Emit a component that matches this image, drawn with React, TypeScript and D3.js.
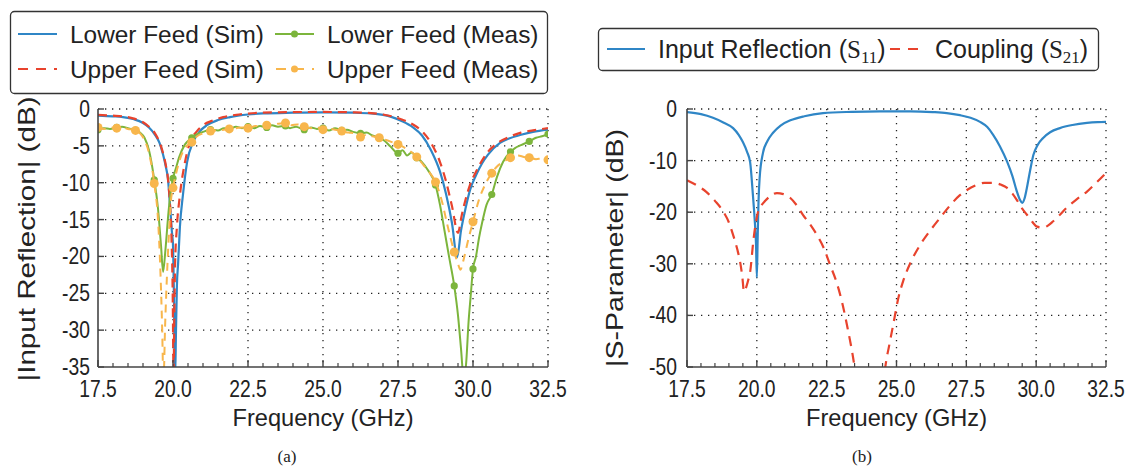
import React from "react";
import * as d3 from "d3";

// ---------- data ----------
const freqTicks = [17.5, 20.0, 22.5, 25.0, 27.5, 30.0, 32.5];
const leftYTicks = [0, -5, -10, -15, -20, -25, -30, -35];
const rightYTicks = [0, -10, -20, -30, -40, -50];
const markerStep = 0.625;

const lowerFeedSim: [number, number][] = [
  [17.5, -0.9], [18.0, -1.0], [18.33, -1.1], [18.7, -1.4], [19.0, -1.9], [19.2, -2.5], [19.4, -3.5],
  [19.55, -4.6], [19.67, -6.2], [19.76, -7.8], [19.83, -9.4], [19.9, -13], [19.96, -16.5], [20.0, -18.5],
  [20.03, -25], [20.07, -36.5], [20.1, -30], [20.13, -24], [20.17, -21], [20.23, -16], [20.33, -11.7],
  [20.47, -7.2], [20.67, -4.5], [20.9, -3.0], [21.13, -2.2], [21.5, -1.5], [21.9, -1.1], [22.5, -0.75],
  [23.0, -0.6], [24.0, -0.5], [25.0, -0.45], [26.0, -0.5], [26.6, -0.6], [27.0, -0.8], [27.3, -1.1],
  [27.6, -1.6], [28.0, -2.5], [28.3, -3.6], [28.6, -5.6], [28.9, -8.5], [29.1, -11.5], [29.3, -15.5],
  [29.47, -20.1], [29.6, -16.5], [29.75, -13.5], [29.9, -11], [30.1, -9], [30.3, -7.4], [30.5, -6.2],
  [30.9, -4.6], [31.2, -4.0], [31.6, -3.5], [32.0, -3.1], [32.5, -2.8],
];

const upperFeedSim: [number, number][] = [
  [17.5, -0.8], [18.0, -0.9], [18.33, -1.0], [18.7, -1.3], [19.0, -1.8], [19.2, -2.4], [19.4, -3.3],
  [19.55, -4.5], [19.67, -6.0], [19.76, -7.6], [19.83, -9.4], [19.9, -13], [19.95, -17.5], [19.99, -25],
  [20.02, -36.5], [20.04, -29], [20.07, -21], [20.13, -16], [20.23, -11.7], [20.4, -7.2], [20.57, -4.5],
  [20.8, -3.0], [21.0, -2.2], [21.3, -1.6], [21.67, -1.1], [22.2, -0.75], [23.0, -0.5], [24.0, -0.42],
  [25.0, -0.4], [26.0, -0.45], [26.6, -0.55], [27.0, -0.75], [27.3, -1.0], [27.6, -1.4], [28.0, -2.1],
  [28.3, -3.0], [28.6, -4.6], [28.9, -7.2], [29.1, -9.8], [29.3, -13.2], [29.5, -16.8], [29.62, -14.5],
  [29.75, -12.3], [29.9, -10.3], [30.1, -8.5], [30.3, -7.0], [30.5, -5.8], [30.9, -4.4], [31.2, -3.8],
  [31.6, -3.2], [32.0, -2.9], [32.5, -2.6],
];

const lowerFeedMeas: [number, number][] = [
  [17.5, -2.8], [17.7, -2.6], [17.9, -2.7], [18.125, -2.5], [18.3, -2.4], [18.5, -2.6], [18.75, -2.9],
  [18.9, -3.2], [19.05, -3.9], [19.2, -5.6], [19.375, -9.6], [19.5, -13.5], [19.6, -18.5], [19.67, -22.1],
  [19.75, -19], [19.85, -14], [19.93, -11], [20.0, -9.4], [20.1, -8], [20.2, -6.6], [20.4, -4.8],
  [20.625, -3.9], [20.8, -3.4], [21.0, -3.1], [21.25, -2.8], [21.5, -2.9], [21.7, -2.6], [21.875, -2.7],
  [22.1, -2.4], [22.3, -2.6], [22.5, -2.4], [22.7, -2.6], [22.9, -2.3], [23.125, -2.5], [23.3, -2.2],
  [23.5, -2.4], [23.75, -2.3], [23.9, -2.6], [24.1, -2.4], [24.375, -2.8], [24.6, -2.5], [24.8, -2.7],
  [25.0, -2.6], [25.2, -2.9], [25.4, -2.6], [25.625, -2.9], [25.8, -2.8], [26.0, -3.1], [26.25, -3.3],
  [26.45, -3.2], [26.65, -3.6], [26.875, -3.9], [27.05, -4.3], [27.25, -5.1], [27.5, -6.0], [27.65, -5.6],
  [27.8, -6.3], [27.95, -5.9], [28.125, -6.6], [28.3, -7.2], [28.5, -8.3], [28.75, -10.3], [28.9, -13],
  [29.05, -16.5], [29.2, -20], [29.375, -24], [29.5, -28], [29.6, -32.5], [29.7, -37], [29.78, -34],
  [29.85, -29], [29.92, -25.5], [30.0, -21.7], [30.1, -20], [30.2, -17.5], [30.3, -15.5], [30.45, -13],
  [30.625, -11.6], [30.8, -9.2], [31.0, -7.2], [31.25, -5.8], [31.4, -5.3], [31.6, -4.9], [31.875, -4.4],
  [32.1, -3.9], [32.3, -3.7], [32.5, -3.4],
];

const upperFeedMeas: [number, number][] = [
  [17.5, -2.5], [17.7, -2.7], [17.9, -2.5], [18.125, -2.6], [18.3, -2.5], [18.5, -2.7], [18.75, -2.9],
  [18.9, -3.3], [19.05, -4.2], [19.2, -6.0], [19.375, -10.1], [19.5, -15], [19.58, -22], [19.64, -30],
  [19.68, -37], [19.74, -29], [19.8, -22.5], [19.87, -16.5], [19.93, -12.5], [20.0, -10.7], [20.1, -8.8],
  [20.2, -7.2], [20.4, -5.3], [20.625, -4.5], [20.8, -3.7], [21.0, -3.3], [21.25, -3.0], [21.5, -2.9],
  [21.7, -2.8], [21.875, -2.7], [22.1, -2.6], [22.3, -2.5], [22.5, -2.6], [22.75, -2.3], [22.95, -2.4],
  [23.125, -2.2], [23.35, -2.1], [23.5, -2.0], [23.75, -1.9], [23.95, -2.2], [24.15, -2.1], [24.375, -2.4],
  [24.6, -2.6], [24.8, -2.5], [25.0, -2.8], [25.2, -2.7], [25.4, -2.8], [25.625, -3.0], [25.85, -3.2],
  [26.05, -3.3], [26.25, -3.8], [26.45, -3.5], [26.65, -3.7], [26.875, -3.9], [27.1, -4.2], [27.3, -4.5],
  [27.5, -4.8], [27.7, -5.2], [27.9, -5.7], [28.125, -6.5], [28.35, -7.6], [28.55, -8.6], [28.75, -9.9],
  [28.95, -12.3], [29.15, -15.8], [29.375, -19.4], [29.5, -21], [29.58, -21.8], [29.7, -20.2],
  [29.85, -17.6], [30.0, -15.3], [30.2, -12.3], [30.4, -10.3], [30.625, -8.7], [30.8, -7.8], [31.0, -7.2],
  [31.25, -6.6], [31.5, -6.3], [31.7, -6.5], [31.875, -6.6], [32.1, -6.8], [32.3, -6.7], [32.5, -6.9],
];

const inputReflection: [number, number][] = [
  [17.5, -0.6], [18.0, -1.0], [18.43, -1.7], [18.8, -2.6], [19.15, -3.7], [19.35, -5.0], [19.5, -6.4],
  [19.65, -8.3], [19.76, -10.3], [19.86, -16.7], [19.93, -22], [19.97, -26], [20.0, -32.6], [20.03, -25],
  [20.06, -18], [20.1, -13.4], [20.22, -8.5], [20.38, -6.2], [20.58, -4.6], [20.85, -3.2], [21.2, -2.2],
  [21.7, -1.4], [22.37, -0.8], [23.4, -0.55], [24.4, -0.45], [25.5, -0.45], [26.3, -0.6], [26.8, -0.8],
  [27.27, -1.2], [27.65, -1.7], [27.99, -2.5], [28.25, -3.5], [28.46, -5.0], [28.7, -7.2], [28.96, -10.2],
  [29.15, -13], [29.31, -16], [29.42, -17.6], [29.5, -18.2], [29.58, -17.4], [29.66, -15.5], [29.78, -12],
  [29.9, -8.9], [30.05, -7.0], [30.25, -5.6], [30.5, -4.5], [30.85, -3.7], [31.3, -3.1], [31.82, -2.7],
  [32.2, -2.55], [32.5, -2.5],
];

const coupling: [number, number][] = [
  [17.5, -13.8], [17.85, -14.8], [18.2, -16.1], [18.5, -17.8], [18.8, -19.9], [19.0, -22], [19.15, -24.4],
  [19.3, -27.2], [19.4, -29.6], [19.48, -32.5], [19.54, -35.4], [19.62, -34.5], [19.7, -33], [19.76, -31.6],
  [19.87, -25.8], [19.95, -22.5], [20.04, -20], [20.15, -18.8], [20.3, -17.8], [20.5, -16.8], [20.72, -16.3],
  [20.95, -16.5], [21.19, -17.2], [21.42, -18.6], [21.65, -20.5], [21.9, -22.3], [22.15, -24.4], [22.4, -27],
  [22.62, -30.2], [22.85, -33.5], [23.05, -37.4], [23.25, -42.5], [23.45, -48.3], [23.55, -52], [23.8, -60],
  [24.2, -65], [24.45, -58], [24.6, -50], [24.75, -45.5], [24.9, -41.3], [25.05, -37], [25.23, -33.5],
  [25.5, -29.8], [25.84, -26.4], [26.2, -23.6], [26.56, -21.1], [26.9, -18.8], [27.27, -16.7], [27.55, -15.6],
  [27.88, -14.7], [28.15, -14.3], [28.46, -14.3], [28.75, -14.7], [28.96, -15.3], [29.15, -16.4], [29.35, -18],
  [29.5, -19.3], [29.67, -20.5], [29.85, -21.8], [30.03, -22.8], [30.25, -23], [30.42, -22.6], [30.6, -21.8],
  [30.85, -20.5], [31.1, -19.1], [31.45, -17.5], [31.82, -16], [32.15, -14.3], [32.5, -12.4],
];

// ---------- style ----------
const BLUE = "#2f86c6";
const RED = "#e8432d";
const GREEN = "#7cb53c";
const ORANGE = "#f8b64c";
const SANS = "'Liberation Sans', Arial, Helvetica, sans-serif";
const SERIF = "'Liberation Serif', 'DejaVu Serif', serif";
const NARROW_X = 0.84;

type Series = {
  data: [number, number][];
  color: string;
  dash?: string;
  width: number;
  marker?: number;
};

type PanelProps = {
  id: string;
  left: number;
  right: number;
  top: number;
  bottom: number;
  yMin: number;
  yTicks: number[];
  series: Series[];
  yLabel: string;
  yLabelX: number;
  yLabelY: number;
  yLabelLen: number;
  tickLabelRight: number;
};

function Panel(p: PanelProps) {
  const x = d3.scaleLinear().domain([17.5, 32.5]).range([p.left, p.right]);
  const y = d3.scaleLinear().domain([p.yMin, 0]).range([p.bottom, p.top]);
  const line = d3
    .line<[number, number]>()
    .x((d) => x(d[0]))
    .y((d) => y(d[1]))
    .curve(d3.curveMonotoneX);
  const minor = d3.range(0, 31).map((i) => 17.5 + i * 0.5).filter((v) => !freqTicks.includes(v));
  const grid = { stroke: "#222", strokeWidth: 1.3, strokeDasharray: "1.3 5.7" };
  const isMarker = (f: number) => {
    const k = (f - 17.5) / markerStep;
    return Math.abs(k - Math.round(k)) < 1e-6;
  };
  return (
    <g>
      <defs>
        <clipPath id={p.id}>
          <rect x={p.left} y={p.top - 2} width={p.right - p.left} height={p.bottom - p.top + 2} />
        </clipPath>
      </defs>
      {freqTicks.slice(1).map((t) => (
        <line key={"gx" + t} x1={x(t)} x2={x(t)} y1={p.top} y2={p.bottom} {...grid} />
      ))}
      {p.yTicks.slice(0, -1).map((t) => (
        <line key={"gy" + t} x1={p.left} x2={p.right} y1={y(t)} y2={y(t)} {...grid} />
      ))}
      <g clipPath={`url(#${p.id})`}>
        {p.series.map((s, i) => (
          <g key={i}>
            <path
              d={line(s.data) || ""}
              fill="none"
              stroke={s.color}
              strokeWidth={s.width}
              strokeDasharray={s.dash}
              strokeLinejoin="round"
            />
            {s.marker
              ? s.data
                  .filter((d) => isMarker(d[0]))
                  .map((d, j) => <circle key={j} cx={x(d[0])} cy={y(d[1])} r={s.marker} fill={s.color} />)
              : null}
          </g>
        ))}
      </g>
      <line x1={p.left} x2={p.right} y1={p.bottom} y2={p.bottom} stroke="#444" strokeWidth={1.6} />
      <line x1={p.left} x2={p.left} y1={p.top} y2={p.bottom} stroke="#444" strokeWidth={1.6} />
      {freqTicks.map((t) => (
        <line key={"tx" + t} x1={x(t)} x2={x(t)} y1={p.bottom} y2={p.bottom - 7} stroke="#444" strokeWidth={1.4} />
      ))}
      {minor.map((t) => (
        <line key={"mx" + t} x1={x(t)} x2={x(t)} y1={p.bottom} y2={p.bottom - 4} stroke="#444" strokeWidth={1.2} />
      ))}
      {p.yTicks.map((t) => (
        <line key={"ty" + t} x1={p.left} x2={p.left + 6} y1={y(t)} y2={y(t)} stroke="#444" strokeWidth={1.4} />
      ))}
      {freqTicks.map((t) => (
        <text
          key={"lx" + t}
          transform={`translate(${x(t)},${p.bottom + 30}) scale(${NARROW_X},1)`}
          textAnchor="middle"
          fontFamily={SANS}
          fontSize={23}
          fill="#222"
        >
          {t.toFixed(1)}
        </text>
      ))}
      {p.yTicks.map((t) => (
        <text
          key={"ly" + t}
          transform={`translate(${p.tickLabelRight},${y(t) + 8}) scale(${NARROW_X},1)`}
          textAnchor="end"
          fontFamily={SANS}
          fontSize={23}
          fill="#222"
        >
          {t}
        </text>
      ))}
      <text
        x={(p.left + p.right) / 2}
        y={p.bottom + 59}
        textAnchor="middle"
        fontFamily={SANS}
        fontSize={24}
        textLength={181}
        lengthAdjust="spacingAndGlyphs"
        fill="#222"
      >
        Frequency (GHz)
      </text>
      <text
        transform={`translate(${p.yLabelX},${p.yLabelY}) rotate(-90)`}
        textAnchor="middle"
        fontFamily={SANS}
        fontSize={24}
        textLength={p.yLabelLen}
        lengthAdjust="spacingAndGlyphs"
        fill="#222"
      >
        {p.yLabel}
      </text>
    </g>
  );
}

export default function App() {
  const fs = 24.4;
  const fsb = 25;
  return (
    <svg
      width={1133}
      height={466}
      viewBox="0 0 1133 466"
      style={{ position: "absolute", left: 0, top: 0, background: "#fff" }}
    >
      <rect width={1133} height={466} fill="#fff" />
      <Panel
        id="clipA"
        left={98}
        right={548}
        top={109}
        bottom={367}
        yMin={-35}
        yTicks={leftYTicks}
        yLabel="|Input Reflection| (dB)"
        yLabelX={35}
        yLabelY={239}
        yLabelLen={285}
        tickLabelRight={90}
        series={[
          { data: lowerFeedSim, color: BLUE, width: 2.2 },
          { data: upperFeedSim, color: RED, width: 2.2, dash: "9 6" },
          { data: lowerFeedMeas, color: GREEN, width: 2, marker: 3.6 },
          { data: upperFeedMeas, color: ORANGE, width: 2, dash: "8 6", marker: 4.5 },
        ]}
      />
      <Panel
        id="clipB"
        left={687}
        right={1106}
        top={109}
        bottom={367}
        yMin={-50}
        yTicks={rightYTicks}
        yLabel="|S-Parameter| (dB)"
        yLabelX={623}
        yLabelY={248}
        yLabelLen={238}
        tickLabelRight={677}
        series={[
          { data: inputReflection, color: BLUE, width: 2.2 },
          { data: coupling, color: RED, width: 2.2, dash: "10 7" },
        ]}
      />

      {/* legend (a) */}
      <rect x={10.5} y={11.5} width={537} height={82} rx={4} fill="#fff" stroke="#333" strokeWidth={1.3} />
      <line x1={18} x2={57} y1={34} y2={34} stroke={BLUE} strokeWidth={2.2} />
      <text x={70} y={42.5} fontFamily={SANS} fontSize={fs} fill="#222">Lower Feed (Sim)</text>
      <line x1={18} x2={57} y1={69} y2={69} stroke={RED} strokeWidth={2.2} strokeDasharray="10 8" />
      <text x={70} y={77.5} fontFamily={SANS} fontSize={fs} fill="#222">Upper Feed (Sim)</text>
      <line x1={275} x2={314} y1={34} y2={34} stroke={GREEN} strokeWidth={2} />
      <circle cx={294.5} cy={34} r={3.5} fill={GREEN} />
      <text x={327} y={42.5} fontFamily={SANS} fontSize={fs} fill="#222">Lower Feed (Meas)</text>
      <line x1={275} x2={314} y1={69} y2={69} stroke={ORANGE} strokeWidth={2} strokeDasharray="10 8" strokeDashoffset={-1} />
      <circle cx={294.5} cy={69} r={3.5} fill={ORANGE} />
      <text x={327} y={77.5} fontFamily={SANS} fontSize={fs} fill="#222">Upper Feed (Meas)</text>

      {/* legend (b) */}
      <rect x={598.5} y={28.5} width={500} height={42} rx={4} fill="#fff" stroke="#333" strokeWidth={1.3} />
      <line x1={607} x2={645} y1={49} y2={49} stroke={BLUE} strokeWidth={2.2} />
      <text x={658} y={57.5} fontFamily={SANS} fontSize={fsb} fill="#222">
        Input Reflection (<tspan fontFamily={SERIF}>S</tspan>
        <tspan fontFamily={SERIF} fontSize={17} dy={5}>11</tspan>
        <tspan dy={-5}>)</tspan>
      </text>
      <line x1={890} x2={923} y1={49} y2={49} stroke={RED} strokeWidth={2.2} strokeDasharray="10 8" />
      <text x={935} y={57.5} fontFamily={SANS} fontSize={fsb} fill="#222">
        Coupling (<tspan fontFamily={SERIF}>S</tspan>
        <tspan fontFamily={SERIF} fontSize={17} dy={5}>21</tspan>
        <tspan dy={-5}>)</tspan>
      </text>

      {/* captions */}
      <text x={287} y={462} textAnchor="middle" fontFamily={SERIF} fontSize={17} fill="#222">(a)</text>
      <text x={862} y={462} textAnchor="middle" fontFamily={SERIF} fontSize={17} fill="#222">(b)</text>
    </svg>
  );
}
